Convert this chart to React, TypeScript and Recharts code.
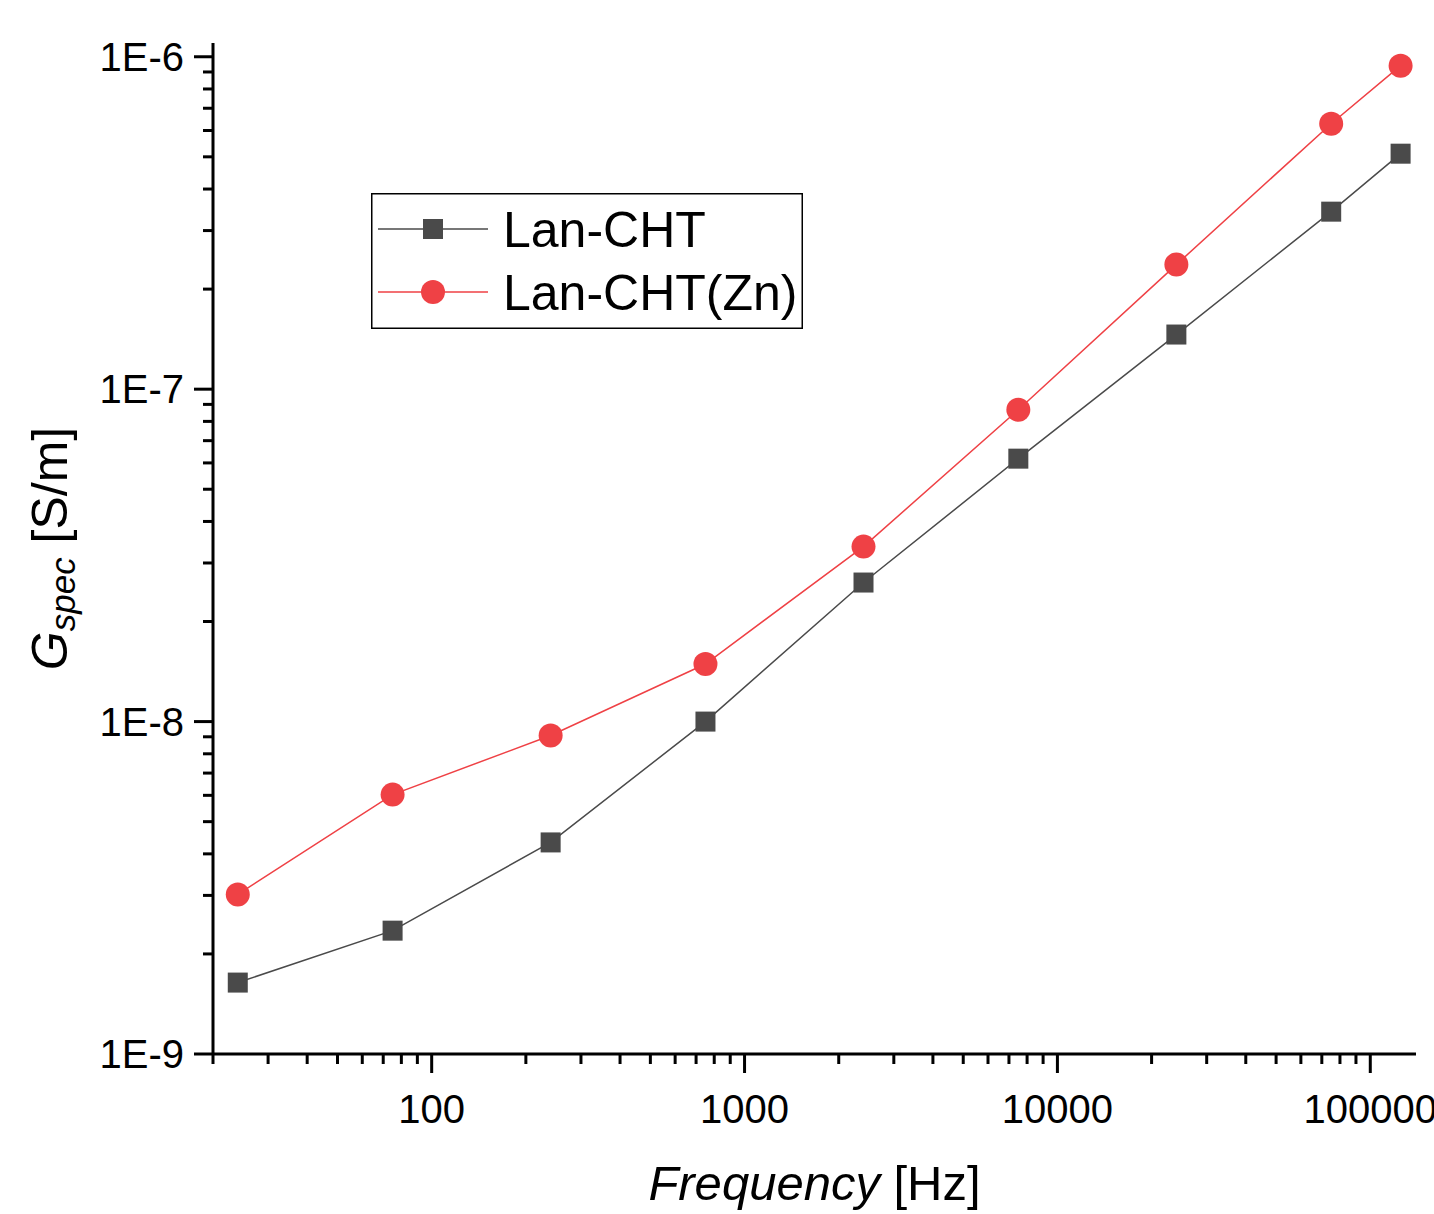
import React from "react"
import { LineChart, Line, XAxis, YAxis, Legend, Label } from "recharts"

const FONT = "'Liberation Sans', Arial, sans-serif"

// frequency [Hz]
const freq = [24, 75, 240, 750, 2400, 7500, 24000, 75000, 125000]
// G_spec [S/m]
const lanCht = [1.64e-9, 2.35e-9, 4.33e-9, 1.0e-8, 2.62e-8, 6.18e-8, 1.46e-7, 3.42e-7, 5.11e-7]
const lanChtZn = [3.02e-9, 6.03e-9, 9.08e-9, 1.49e-8, 3.36e-8, 8.67e-8, 2.37e-7, 6.29e-7, 9.4e-7]

const xMajor = [100, 1000, 10000, 100000]
const xDecades = [10, 100, 1000, 10000]
const yMajor = [1e-9, 1e-8, 1e-7, 1e-6]
const yDecades = [1e-9, 1e-8, 1e-7]
const minorMult = [2, 3, 4, 5, 6, 7, 8, 9]

const xDomain: [number, number] = [20, 140000]
const yDomain: [number, number] = [1e-9, 1.1e-6]

const xTicks = [
  ...xMajor,
  ...xDecades.flatMap((d) => minorMult.map((m) => m * d)).filter((v) => v >= xDomain[0] && v <= xDomain[1]),
]
const yTicks = [
  ...yMajor,
  ...yDecades.flatMap((d) => minorMult.map((m) => Number((m * d).toPrecision(3)))),
]

const data = freq.map((f, i) => ({ f, a: lanCht[i], b: lanChtZn[i] }))

const BLACK = "#4a4a4a"
const RED = "#ef4145"

const isMajor = (list: number[], v: number) => list.some((m) => Math.abs(v / m - 1) < 1e-6)

const XTick = (props: any) => {
  const { x, y, payload } = props
  const v = payload.value
  const major = isMajor(xMajor, v)
  return (
    <g>
      <line x1={x} x2={x} y1={y} y2={y + (major ? 19 : 10)} stroke="#000" strokeWidth={3} />
      {major && (
        <text x={x} y={y + 69} textAnchor="middle" fontSize={40} fontFamily={FONT} fill="#000">
          {v}
        </text>
      )}
    </g>
  )
}

const YTick = (props: any) => {
  const { x, y, payload } = props
  const v = payload.value
  const major = isMajor(yMajor, v)
  return (
    <g>
      <line x1={x} x2={x - (major ? 19 : 10)} y1={y} y2={y} stroke="#000" strokeWidth={3} />
      {major && (
        <text x={x - 29} y={y + 14} textAnchor="end" fontSize={40} fontFamily={FONT} fill="#000">
          {"1E" + Math.round(Math.log10(v))}
        </text>
      )}
    </g>
  )
}

const SquareDot = (p: any) => (
  <rect key={"s" + p.index} x={p.cx - 10} y={p.cy - 10} width={20} height={20} fill={BLACK} />
)

const LegendBox = () => (
  <svg width={432} height={136} style={{ display: "block" }}>
    <rect x={0.75} y={0.75} width={430.5} height={134.5} fill="#fff" stroke="#000" strokeWidth={1.5} />
    <line x1={7} x2={117} y1={36} y2={36} stroke={BLACK} strokeWidth={1.5} />
    <rect x={52} y={26} width={20} height={20} fill={BLACK} />
    <text x={132} y={54} fontSize={50} fontFamily={FONT} fill="#000">Lan-CHT</text>
    <line x1={7} x2={117} y1={99} y2={99} stroke={RED} strokeWidth={1.5} />
    <circle cx={62} cy={99} r={12} fill={RED} />
    <text x={132} y={117} fontSize={50} fontFamily={FONT} fill="#000">Lan-CHT(Zn)</text>
  </svg>
)

export default function App() {
  return (
    <div style={{ position: "absolute", left: 0, top: 0, background: "#fff" }}>
      <LineChart width={1434} height={1214} data={data} margin={{ top: 43, right: 18, left: 0, bottom: 0 }}>
        <XAxis
          dataKey="f"
          type="number"
          scale="log"
          domain={xDomain}
          allowDataOverflow
          ticks={xTicks}
          interval={0}
          tick={<XTick />}
          tickLine={false}
          tickSize={0}
          tickMargin={0}
          height={160}
          axisLine={{ stroke: "#000", strokeWidth: 3 }}
        >
          <Label
            content={(p: any) => {
              const vb = p.viewBox
              return (
                <text x={vb.x + vb.width / 2} y={vb.y + 146} textAnchor="middle" fontSize={49} fontFamily={FONT} fill="#000">
                  <tspan fontStyle="italic">Frequency</tspan>
                  <tspan> [Hz]</tspan>
                </text>
              )
            }}
          />
        </XAxis>
        <YAxis
          type="number"
          scale="log"
          domain={yDomain}
          allowDataOverflow
          ticks={yTicks}
          interval={0}
          tick={<YTick />}
          tickLine={false}
          tickSize={0}
          tickMargin={0}
          width={213}
          axisLine={{ stroke: "#000", strokeWidth: 3 }}
        >
          <Label
            content={(p: any) => {
              const vb = p.viewBox
              const cx = 67
              const cy = vb.y + vb.height / 2
              return (
                <text x={cx} y={cy} transform={`rotate(-90, ${cx}, ${cy})`} textAnchor="middle" fontSize={50} fontFamily={FONT} fill="#000">
                  <tspan fontStyle="italic">G</tspan>
                  <tspan fontStyle="italic" fontSize={35} dy={8}>spec</tspan>
                  <tspan dy={-8}> [S/m]</tspan>
                </text>
              )
            }}
          />
        </YAxis>
        <Legend
          layout="horizontal"
          verticalAlign="middle"
          align="center"
          content={<LegendBox />}
          wrapperStyle={{ left: 371, top: 193, width: 432, height: 136 }}
        />
        <Line
          dataKey="a"
          name="Lan-CHT"
          stroke={BLACK}
          strokeWidth={1.5}
          dot={SquareDot}
          activeDot={false}
          isAnimationActive={false}
        />
        <Line
          dataKey="b"
          name="Lan-CHT(Zn)"
          stroke={RED}
          strokeWidth={1.5}
          dot={{ r: 12, fill: RED, stroke: "none" }}
          activeDot={false}
          isAnimationActive={false}
        />
      </LineChart>
    </div>
  )
}
